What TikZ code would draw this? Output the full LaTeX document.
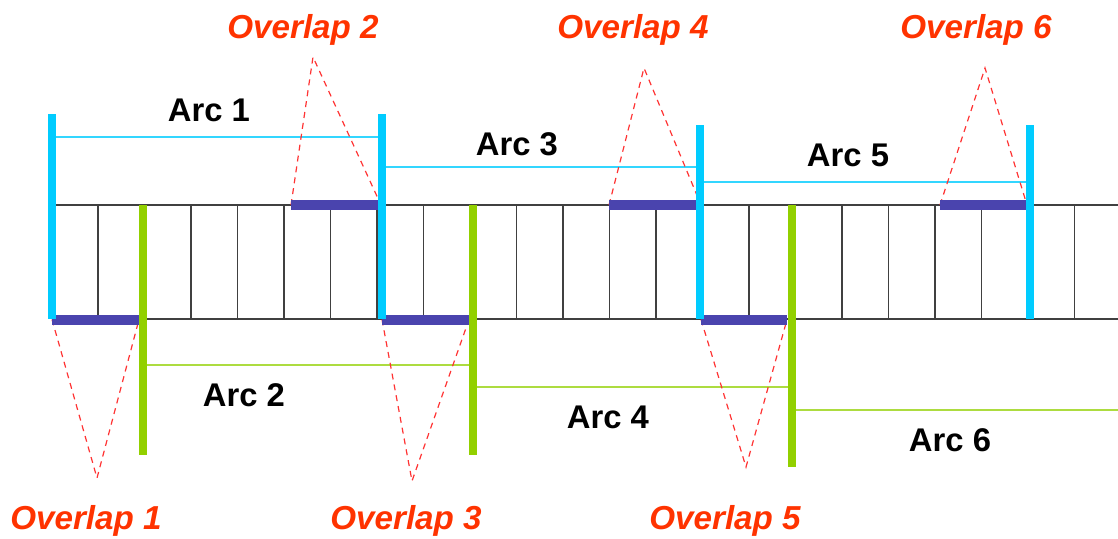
\documentclass[tikz,border=0pt]{standalone}
\usepackage{fontspec}
\setmainfont{Liberation Sans}
\usetikzlibrary{positioning}
\definecolor{arccyan}{RGB}{0,204,255}
\definecolor{arcgreen}{RGB}{146,208,0}
\definecolor{ovlpurple}{RGB}{74,68,174}
\definecolor{ovlred}{RGB}{255,51,0}

\begin{document}
\begin{tikzpicture}[x=0.5pt, y=-0.5pt,
    cellline/.style={draw=black!75, line width=0.7pt},
    cyanbar/.style={draw=arccyan, line width=4pt},
    greenbar/.style={draw=arcgreen, line width=4pt},
    cyanspan/.style={draw=arccyan!80, line width=0.8pt},
    greenspan/.style={draw=arcgreen!75, line width=0.8pt},
    ovlbar/.style={draw=ovlpurple, line width=5pt},
    ovldash/.style={draw=red!80, line width=0.6pt, dash pattern=on 3pt off 2.5pt},
    arclabel/.style={inner sep=0pt, font=\bfseries\fontsize{16.4}{18}\selectfont},
    ovllabel/.style={inner sep=0pt, text=ovlred, font=\bfseries\itshape\fontsize{16.6}{18}\selectfont}]
\useasboundingbox (0,0) rectangle (1118,538);
% the strip of cells
\draw[cellline] (52,205) -- (1118,205);
\draw[cellline] (52,319) -- (1118,319);
\foreach \k in {1,...,22}
    \draw[cellline] (51.5+\k*46.5,205) -- (51.5+\k*46.5,319);
% arc ends
\foreach \n/\x/\t in {0/52/114, 1/382/114, 2/700/125, 3/1030/125} {
    \coordinate (cyan\n-top) at (\x,\t);
    \coordinate (cyan\n-bot) at (\x,319);
}
\foreach \n/\x/\b in {0/143/455, 1/473/455, 2/792/467} {
    \coordinate (green\n-top) at (\x,205);
    \coordinate (green\n-bot) at (\x,\b);
}
\coordinate (rim) at (1118,410);
% spans
\draw[cyanspan] (cyan0-top |- 0,137) -- (cyan1-top |- 0,137);
\draw[cyanspan] (cyan1-top |- 0,167) -- (cyan2-top |- 0,167);
\draw[cyanspan] (cyan2-top |- 0,182) -- (cyan3-top |- 0,182);
\draw[greenspan] (green0-top |- 0,365) -- (green1-top |- 0,365);
\draw[greenspan] (green1-top |- 0,387) -- (green2-top |- 0,387);
\draw[greenspan] (green2-top |- rim) -- (rim);
% overlaps
\foreach \n/\xa/\xb/\y/\ax/\ay/\lx/\ly in {
    1/52/139/319.5/97/478/86/521,
    2/291/381/205/313/57/303/30,
    3/382/469/319.5/412/481/406/521,
    4/609/701/205/644/68/633/30,
    5/701/787/319.5/746/467/725/521,
    6/940/1027/205/985/68/976/30} {
    \coordinate (ov\n-l) at (\xa,\y);
    \coordinate (ov\n-r) at (\xb,\y);
    \coordinate (ov\n-tip) at (\ax,\ay);
    \draw[ovldash] (ov\n-l) -- (ov\n-tip) -- (ov\n-r);
    \draw[ovlbar] (ov\n-l) -- (ov\n-r);
    \node[ovllabel] (ovl\n) at (\lx,\ly) {Overlap \n};
}
\foreach \n in {0,...,3}
    \draw[cyanbar] (cyan\n-top) -- (cyan\n-bot);
\foreach \n in {0,1,2}
    \draw[greenbar] (green\n-top) -- (green\n-bot);
% labels
\node[arclabel] (arc1) at (209,110) {Arc 1};
\node[arclabel] (arc3) at (517,144) {Arc 3};
\node[arclabel] (arc5) at (848,155) {Arc 5};
\node[arclabel] (arc2) at (244,395) {Arc 2};
\node[arclabel] (arc4) at (608,417) {Arc 4};
\node[arclabel] (arc6) at (950,440) {Arc 6};
\end{tikzpicture}
\end{document}
